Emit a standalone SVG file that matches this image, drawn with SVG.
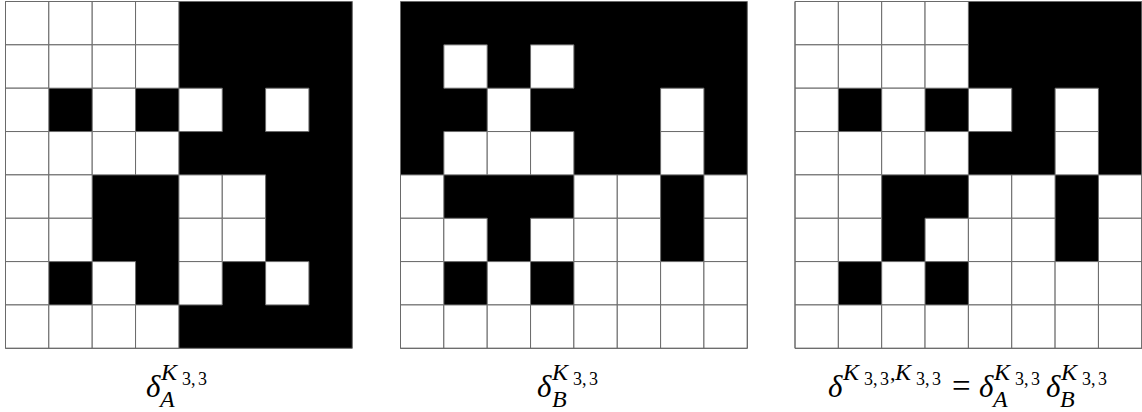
<svg xmlns="http://www.w3.org/2000/svg" width="1142" height="412" viewBox="0 0 1142 412">
<style>
.bg{fill:#000}
.w{fill:#fff;stroke:#6a6a6a;stroke-width:1;vector-effect:non-scaling-stroke}
.bd{fill:none;stroke:#6a6a6a;stroke-width:1;vector-effect:non-scaling-stroke}
text{font-family:"Liberation Serif","Times New Roman",serif;fill:#000}
.d{font-size:31px;font-style:italic}
.s{font-size:24px;font-style:italic}
.n{font-size:18px}
.c{font-size:22px}
.eq{font-size:33px}
</style>
<rect width="1142" height="412" fill="#fff"/>
<g id="gridA" transform="translate(5.5,1.5) scale(43.35)">
<rect class="bg" width="8" height="8"/>
<rect class="w" x="0" y="0" width="1" height="1"/><rect class="w" x="1" y="0" width="1" height="1"/><rect class="w" x="2" y="0" width="1" height="1"/><rect class="w" x="3" y="0" width="1" height="1"/>
<rect class="w" x="0" y="1" width="1" height="1"/><rect class="w" x="1" y="1" width="1" height="1"/><rect class="w" x="2" y="1" width="1" height="1"/><rect class="w" x="3" y="1" width="1" height="1"/>
<rect class="w" x="0" y="2" width="1" height="1"/><rect class="w" x="2" y="2" width="1" height="1"/><rect class="w" x="4" y="2" width="1" height="1"/><rect class="w" x="6" y="2" width="1" height="1"/>
<rect class="w" x="0" y="3" width="1" height="1"/><rect class="w" x="1" y="3" width="1" height="1"/><rect class="w" x="2" y="3" width="1" height="1"/><rect class="w" x="3" y="3" width="1" height="1"/>
<rect class="w" x="0" y="4" width="1" height="1"/><rect class="w" x="1" y="4" width="1" height="1"/><rect class="w" x="4" y="4" width="1" height="1"/><rect class="w" x="5" y="4" width="1" height="1"/>
<rect class="w" x="0" y="5" width="1" height="1"/><rect class="w" x="1" y="5" width="1" height="1"/><rect class="w" x="4" y="5" width="1" height="1"/><rect class="w" x="5" y="5" width="1" height="1"/>
<rect class="w" x="0" y="6" width="1" height="1"/><rect class="w" x="2" y="6" width="1" height="1"/><rect class="w" x="4" y="6" width="1" height="1"/><rect class="w" x="6" y="6" width="1" height="1"/>
<rect class="w" x="0" y="7" width="1" height="1"/><rect class="w" x="1" y="7" width="1" height="1"/><rect class="w" x="2" y="7" width="1" height="1"/><rect class="w" x="3" y="7" width="1" height="1"/>
<rect class="bd" width="8" height="8"/>
</g>
<g id="gridB" transform="translate(400.5,1.5) scale(43.35)">
<rect class="bg" width="8" height="8"/>
<rect class="w" x="1" y="1" width="1" height="1"/><rect class="w" x="3" y="1" width="1" height="1"/>
<rect class="w" x="2" y="2" width="1" height="1"/><rect class="w" x="6" y="2" width="1" height="1"/>
<rect class="w" x="1" y="3" width="1" height="1"/><rect class="w" x="2" y="3" width="1" height="1"/><rect class="w" x="3" y="3" width="1" height="1"/><rect class="w" x="6" y="3" width="1" height="1"/>
<rect class="w" x="0" y="4" width="1" height="1"/><rect class="w" x="4" y="4" width="1" height="1"/><rect class="w" x="5" y="4" width="1" height="1"/><rect class="w" x="7" y="4" width="1" height="1"/>
<rect class="w" x="0" y="5" width="1" height="1"/><rect class="w" x="1" y="5" width="1" height="1"/><rect class="w" x="3" y="5" width="1" height="1"/><rect class="w" x="4" y="5" width="1" height="1"/><rect class="w" x="5" y="5" width="1" height="1"/><rect class="w" x="7" y="5" width="1" height="1"/>
<rect class="w" x="0" y="6" width="1" height="1"/><rect class="w" x="2" y="6" width="1" height="1"/><rect class="w" x="4" y="6" width="1" height="1"/><rect class="w" x="5" y="6" width="1" height="1"/><rect class="w" x="6" y="6" width="1" height="1"/><rect class="w" x="7" y="6" width="1" height="1"/>
<rect class="w" x="0" y="7" width="1" height="1"/><rect class="w" x="1" y="7" width="1" height="1"/><rect class="w" x="2" y="7" width="1" height="1"/><rect class="w" x="3" y="7" width="1" height="1"/><rect class="w" x="4" y="7" width="1" height="1"/><rect class="w" x="5" y="7" width="1" height="1"/><rect class="w" x="6" y="7" width="1" height="1"/><rect class="w" x="7" y="7" width="1" height="1"/>
<rect class="bd" width="8" height="8"/>
</g>
<g id="gridAB" transform="translate(795,1.5) scale(43.35)">
<rect class="bg" width="8" height="8"/>
<rect class="w" x="0" y="0" width="1" height="1"/><rect class="w" x="1" y="0" width="1" height="1"/><rect class="w" x="2" y="0" width="1" height="1"/><rect class="w" x="3" y="0" width="1" height="1"/>
<rect class="w" x="0" y="1" width="1" height="1"/><rect class="w" x="1" y="1" width="1" height="1"/><rect class="w" x="2" y="1" width="1" height="1"/><rect class="w" x="3" y="1" width="1" height="1"/>
<rect class="w" x="0" y="2" width="1" height="1"/><rect class="w" x="2" y="2" width="1" height="1"/><rect class="w" x="4" y="2" width="1" height="1"/><rect class="w" x="6" y="2" width="1" height="1"/>
<rect class="w" x="0" y="3" width="1" height="1"/><rect class="w" x="1" y="3" width="1" height="1"/><rect class="w" x="2" y="3" width="1" height="1"/><rect class="w" x="3" y="3" width="1" height="1"/><rect class="w" x="6" y="3" width="1" height="1"/>
<rect class="w" x="0" y="4" width="1" height="1"/><rect class="w" x="1" y="4" width="1" height="1"/><rect class="w" x="4" y="4" width="1" height="1"/><rect class="w" x="5" y="4" width="1" height="1"/><rect class="w" x="7" y="4" width="1" height="1"/>
<rect class="w" x="0" y="5" width="1" height="1"/><rect class="w" x="1" y="5" width="1" height="1"/><rect class="w" x="3" y="5" width="1" height="1"/><rect class="w" x="4" y="5" width="1" height="1"/><rect class="w" x="5" y="5" width="1" height="1"/><rect class="w" x="7" y="5" width="1" height="1"/>
<rect class="w" x="0" y="6" width="1" height="1"/><rect class="w" x="2" y="6" width="1" height="1"/><rect class="w" x="4" y="6" width="1" height="1"/><rect class="w" x="5" y="6" width="1" height="1"/><rect class="w" x="6" y="6" width="1" height="1"/><rect class="w" x="7" y="6" width="1" height="1"/>
<rect class="w" x="0" y="7" width="1" height="1"/><rect class="w" x="1" y="7" width="1" height="1"/><rect class="w" x="2" y="7" width="1" height="1"/><rect class="w" x="3" y="7" width="1" height="1"/><rect class="w" x="4" y="7" width="1" height="1"/><rect class="w" x="5" y="7" width="1" height="1"/><rect class="w" x="6" y="7" width="1" height="1"/><rect class="w" x="7" y="7" width="1" height="1"/>
<rect class="bd" width="8" height="8"/>
</g>
<g id="labelA">
<text class="d" x="146" y="397">δ</text>
<text class="s" x="161" y="380">K</text>
<text class="n" y="384.5"><tspan x="182">3</tspan><tspan x="191">,</tspan><tspan x="198">3</tspan></text>
<text class="s" x="160" y="407">A</text>
</g>
<g id="labelB">
<text class="d" x="537" y="397">δ</text>
<text class="s" x="552" y="380">K</text>
<text class="n" y="384.5"><tspan x="573">3</tspan><tspan x="582">,</tspan><tspan x="589">3</tspan></text>
<text class="s" x="552" y="407">B</text>
</g>
<g id="labelAB">
<text class="d" x="828" y="397">δ</text>
<text class="s" x="843" y="380">K</text>
<text class="n" y="384.5"><tspan x="864">3</tspan><tspan x="873">,</tspan><tspan x="880">3</tspan></text>
<text class="c" x="890" y="380">,</text>
<text class="s" x="895" y="380">K</text>
<text class="n" y="384.5"><tspan x="916">3</tspan><tspan x="925">,</tspan><tspan x="932">3</tspan></text>
<text class="eq" x="952" y="397">=</text>
<text class="d" x="979" y="397">δ</text>
<text class="s" x="994" y="380">K</text>
<text class="n" y="384.5"><tspan x="1015">3</tspan><tspan x="1024">,</tspan><tspan x="1031">3</tspan></text>
<text class="s" x="993" y="407">A</text>
<text class="d" x="1046" y="397">δ</text>
<text class="s" x="1061" y="380">K</text>
<text class="n" y="384.5"><tspan x="1082">3</tspan><tspan x="1091">,</tspan><tspan x="1098">3</tspan></text>
<text class="s" x="1060" y="407">B</text>
</g>
</svg>
